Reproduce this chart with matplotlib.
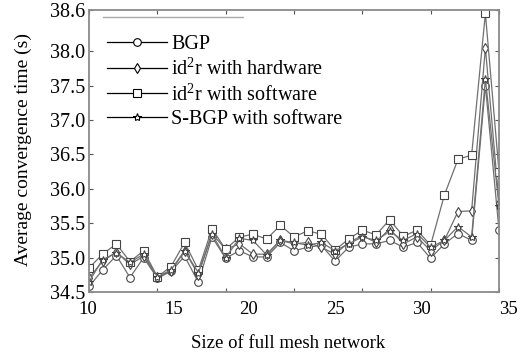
import matplotlib
matplotlib.use("Agg")
import matplotlib.pyplot as plt
from matplotlib.lines import Line2D

plt.rcParams['font.family'] = ['Liberation Serif', 'DejaVu Serif']
plt.rcParams['mathtext.fontset'] = 'custom'
plt.rcParams['mathtext.rm'] = 'Liberation Serif'
plt.rcParams['mathtext.it'] = 'Liberation Serif:italic'

# ---- data ----
sizes = [10.0, 10.83, 11.67, 12.5, 13.33, 14.17, 15.0, 15.83, 16.67, 17.5,
         18.33, 19.17, 20.0, 20.83, 21.67, 22.5, 23.33, 24.17, 25.0, 25.83,
         26.67, 27.5, 28.33, 29.17, 30.0, 30.83, 31.67, 32.5, 33.33, 34.17, 35.0]

bgp = [34.58, 34.82, 35.03, 34.71, 35.00, 34.70, 34.80, 35.02, 34.64, 35.30,
       34.99, 35.10, 35.01, 35.01, 35.22, 35.10, 35.15, 35.18, 34.95, 35.15,
       35.20, 35.20, 35.25, 35.15, 35.22, 34.99, 35.20, 35.35, 35.25, 37.50, 35.40]

id2r_hw = [34.70, 34.95, 35.08, 34.90, 35.02, 34.72, 34.80, 35.10, 34.75, 35.35,
           35.12, 35.20, 35.05, 35.05, 35.25, 35.20, 35.22, 35.15, 35.05, 35.22,
           35.32, 35.22, 35.42, 35.20, 35.30, 35.10, 35.25, 35.67, 35.68, 38.05, 35.80]

id2r_sw = [34.85, 35.05, 35.20, 34.94, 35.10, 34.72, 34.87, 35.22, 34.82, 35.42,
           35.12, 35.30, 35.34, 35.27, 35.47, 35.30, 35.39, 35.34, 35.11, 35.27,
           35.40, 35.33, 35.55, 35.31, 35.40, 35.18, 35.91, 36.43, 36.49, 38.55, 36.25]

sbgp_sw = [34.65, 34.97, 35.07, 34.93, 35.05, 34.72, 34.82, 35.10, 34.78, 35.34,
           35.00, 35.28, 35.25, 35.04, 35.25, 35.22, 35.18, 35.22, 35.10, 35.20,
           35.30, 35.25, 35.38, 35.25, 35.35, 35.15, 35.25, 35.45, 35.30, 37.60, 35.75]

series_labels = ['BGP', r'id$^2$r with hardware', r'id$^2$r with software',
                 'S-BGP with software']
xtick_labels = ['10', '15', '20', '25', '30', '35']
xtick_label_pos = [9.95, 15.15, 19.7, 25.05, 30.3, 35.55]
ytick_vals = [34.5, 35.0, 35.5, 36.0, 36.5, 37.0, 37.5, 38.0, 38.6]
ytick_labels = ['34.5', '35.0', '35.5', '36.0', '36.5', '37.0', '37.5', '38.0', '38.6']

# ---- figure ----
fig = plt.figure(figsize=(5.30, 3.57), dpi=100)
ax = fig.add_axes([89 / 530, 1 - 292 / 357, 410 / 530, 282 / 357])

markers = ['o', 'd', 's', '*']
msizes = [5.5, 5.5, 5.5, 6.0]
all_series = [bgp, id2r_hw, id2r_sw, sbgp_sw]
for ys, m, ms in zip(all_series, markers, msizes):
    ax.plot(sizes, ys, color='#707070', lw=0.9, marker=m, ms=ms,
            mfc='white', mec='#444444', mew=0.8)

ax.set_xlim(10, 35)
ax.set_ylim(34.5, 38.6)
ax.set_xticks(sizes[::5])
ax.set_xticklabels([])
ax.set_yticks(ytick_vals)
ax.set_yticklabels(ytick_labels, fontsize=14.5)
ax.tick_params(direction='in', length=3, width=0.8, color='#555555',
               top=True, right=True, pad=3)
for s in ax.spines.values():
    s.set_color('#8a8a8a')
    s.set_linewidth(1.3)

xt = ax.get_xaxis_transform()
for lab, pos in zip(xtick_labels, xtick_label_pos):
    ax.text(pos, -0.062, lab, transform=xt, ha='center', va='center',
            fontsize=13.5, clip_on=False)

fig.text(288 / 530, 1 - 343 / 357, 'Size of full mesh network',
         ha='center', va='center', fontsize=13.5)
fig.text(23 / 530, 1 - 150 / 357, 'Average convergence time (s)',
         ha='center', va='center', rotation=90, fontsize=14)

# remnant of legend box top edge
ax.plot([0.034, 0.376], [0.975, 0.975], transform=ax.transAxes,
        color='#aaaaaa', lw=1.0, clip_on=False)

handles = [Line2D([], [], color='black', lw=0.9, marker=m, ms=ms,
                  mfc='white', mec='black', mew=0.8)
           for m, ms in zip(markers, msizes)]
fig.legend(handles, series_labels, loc='upper left',
           bbox_to_anchor=(107 / 530, 1 - 35 / 357), frameon=False,
           fontsize=14.5, handlelength=3.0, handletextpad=0.2,
           labelspacing=0.22, borderpad=0, borderaxespad=0)

fig.savefig('out.png', dpi=100, facecolor='white')
